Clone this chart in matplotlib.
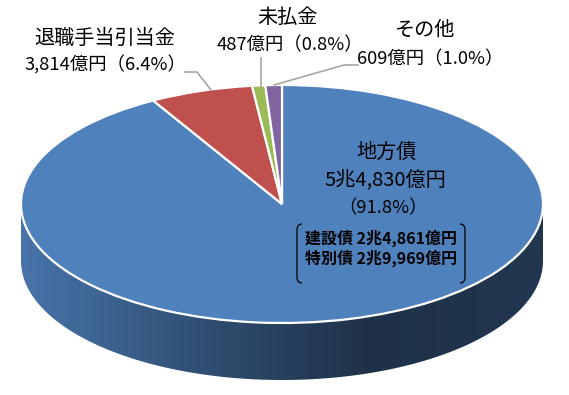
import numpy as np
import matplotlib
matplotlib.use("Agg")
import matplotlib.pyplot as plt
from matplotlib.colors import LinearSegmentedColormap, to_rgb
from matplotlib.patches import Polygon
from matplotlib.path import Path
from matplotlib.patches import PathPatch

plt.rcParams['font.family'] = ['Noto Sans CJK JP', 'DejaVu Sans']

# data (億円)
names = ["地方債", "退職手当引当金", "未払金", "その他"]
values = [54830, 3814, 487, 609]
pcts = [91.8, 6.4, 0.8, 1.0]
amount_text = ["5兆4,830億円", "3,814億円", "487億円", "609億円"]
breakdown = ["建設債 2兆4,861億円", "特別債 2兆9,969億円"]
colors = ["#4F81BD", "#C0504D", "#9BBB59", "#8064A2"]

W, H = 569, 395
fig = plt.figure(figsize=(W / 100, H / 100), dpi=100)
ax = fig.add_axes([0, 0, 1, 1])

# pie geometry in pixels
cx, cy = 282, 204      # centre of top face (from top-left)
a, b = 261, 119        # semi axes
depth = 57 / b

wedges, _ = ax.pie(values, colors=colors, startangle=90, counterclock=False,
                   radius=1, center=(0, 0),
                   wedgeprops=dict(edgecolor="white", linewidth=1.6, zorder=3))
ax.set_aspect("auto")
ax.axis("off")

# side wall of the 3D pie (front half only)
for w, col in zip(wedges, colors):
    t1, t2 = w.theta1, w.theta2
    for lo, hi in [(180, 360), (540, 720), (-180, 0)]:
        s, e = max(t1, lo), min(t2, hi)
        if e <= s:
            continue
        t = np.radians(np.linspace(s, e, 200))
        xs = np.cos(t)
        ys = np.sin(t)
        pts = np.column_stack([np.r_[xs, xs[::-1]], np.r_[ys, ys[::-1] - depth]])
        poly = Polygon(pts, closed=True, facecolor="none", edgecolor="none",
                       transform=ax.transData)
        ax.add_patch(poly)
        rgb = np.array(to_rgb(col))
        cmap = LinearSegmentedColormap.from_list(
            "side", [rgb * 0.9, rgb * 0.62, rgb * 0.38, rgb * 0.42])
        grad = np.linspace(0, 1, 256).reshape(1, -1)
        im = ax.imshow(grad, cmap=cmap, extent=[-1, 1, -1 - depth, 0.05],
                       aspect="auto", zorder=2, interpolation="bilinear")
        im.set_clip_path(poly)

ax.set_xlim(-cx / a, (W - cx) / a)
ax.set_ylim(-(H - cy) / b, cy / b)

# overlay in pixel coordinates for labels
ov = fig.add_axes([0, 0, 1, 1])
ov.set_xlim(0, W)
ov.set_ylim(H, 0)
ov.axis("off")

def lab(i):
    return f"{amount_text[i]}（{pcts[i]}%）"

fs_name = 14.5
fs_val = 13.2
ov.text(105, 38, names[1], ha="center", va="center", fontsize=fs_name)
ov.text(105, 65, lab(1), ha="center", va="center", fontsize=fs_val)
ov.text(288, 17, names[2], ha="center", va="center", fontsize=fs_name)
ov.text(290, 45, lab(2), ha="center", va="center", fontsize=fs_val)
ov.text(425, 30, names[3], ha="center", va="center", fontsize=fs_name)
ov.text(430, 59, lab(3), ha="center", va="center", fontsize=fs_val)

ov.text(387, 152, names[0], ha="center", va="center", fontsize=fs_name)
ov.text(385, 180, amount_text[0], ha="center", va="center", fontsize=14.5)
ov.text(383, 208, f"（{pcts[0]}%）", ha="center", va="center", fontsize=fs_val)
ov.text(381, 238, breakdown[0], ha="center", va="center", fontsize=11.5,
        fontweight="bold")
ov.text(381, 258, breakdown[1], ha="center", va="center", fontsize=11.5,
        fontweight="bold")

# brackets around breakdown
for x0, sgn in [(297, 1), (465, -1)]:
    verts = [(x0 + 5 * sgn, 224), (x0, 224), (x0, 230), (x0, 277),
             (x0, 283), (x0 + 5 * sgn, 283)]
    codes = [Path.MOVETO, Path.CURVE3, Path.CURVE3, Path.LINETO,
             Path.CURVE3, Path.CURVE3]
    ov.add_patch(PathPatch(Path(verts, codes), facecolor="none",
                           edgecolor="black", lw=0.9))

# leader lines
lc = "#A6A6A6"
ov.plot([185, 197, 211], [72, 72, 90], color=lc, lw=1.2)
ov.plot([261, 261], [58, 86], color=lc, lw=1.2)
ov.plot([358, 344, 274], [65, 65, 85], color=lc, lw=1.2)

fig.savefig("out.png", dpi=100)
